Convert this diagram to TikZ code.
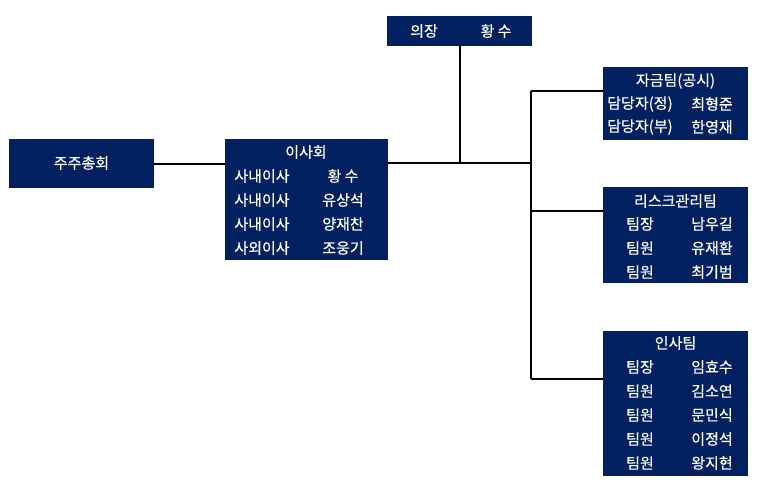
\documentclass[tikz,border=0pt]{standalone}
\usepackage{fontspec}
\setmainfont[FakeBold=0.4]{Noto Sans CJK KR}
\definecolor{navy}{HTML}{002060}

\tikzset{
  box/.style={fill=navy, inner sep=0pt, anchor=north west},
  txt/.style={text=white, inner sep=0pt, font=\fontsize{15}{18}\selectfont},
  wire/.style={line width=2pt}
}

\begin{document}
\begin{tikzpicture}[x=1pt,y=-1pt]
  \useasboundingbox (0,0) rectangle (769,487);

	%draw boxes
 \node[box, minimum width=145, minimum height=49] (jusu) at (9,139) {};
 \node[box, minimum width=163, minimum height=121] (isa) at (225,139) {};
 \node[box, minimum width=145, minimum height=30] (uijang) at (387,16) {};
 \node[box, minimum width=145, minimum height=73] (jagum) at (603,67) {};
 \node[box, minimum width=145, minimum height=96] (risk) at (603,187) {};
 \node[box, minimum width=145, minimum height=145] (insa) at (603,331) {};

	%titles
 \node[txt] (jusu-t) at (81.5,163) {주주총회};
 \node[txt] (isa-t) at (306,152) {이사회};
 \node[txt] (jagum-t) at (675.5,81) {자금팀(공시)};
 \node[txt] (risk-t) at (675.5,201) {리스크관리팀};
 \node[txt] (insa-t) at (675.5,343) {인사팀};

 \node[txt] (uijang-a) at (424,31) {의장};
 \node[txt] (uijang-b) at (496,31) {황 수};

	%members
    \foreach \y/\role/\who/\name in { 176/사내이사/황 수/i1,200/사내이사/유상석/i2,224/사내이사/양재찬/i3,248/사외이사/조웅기/i4 }{
         \node[txt] (\name a) at (262,\y) {\role};
         \node[txt] (\name b) at (343,\y) {\who};
    }

    \foreach \y/\role/\who/\name in { 104/담당자(정)/최형준/j1,127/담당자(부)/한영재/j2 }{
         \node[txt] (\name a) at (640,\y) {\role};
         \node[txt] (\name b) at (712,\y) {\who};
    }

    \foreach \y/\role/\who/\name in { 224/팀장/남우길/r1,248/팀원/유재환/r2,272/팀원/최기범/r3 }{
         \node[txt] (\name a) at (640,\y) {\role};
         \node[txt] (\name b) at (712,\y) {\who};
    }

    \foreach \y/\role/\who/\name in { 367/팀장/임효수/s1,391/팀원/김소연/s2,415/팀원/문민식/s3,439/팀원/이정석/s4,463/팀원/왕지현/s5 }{
         \node[txt] (\name a) at (640,\y) {\role};
         \node[txt] (\name b) at (712,\y) {\who};
    }

	%lines
 \coordinate (split) at (531,163);
 \coordinate (top) at (531,91);
 \coordinate (mid) at (531,211);
 \coordinate (bot) at (531,379);

 \draw[wire] (jusu.east) -- (jusu.east -| isa.west);
 \draw[wire] (isa.east |- split) -- (split);
 \draw[wire] (uijang.south) -- (uijang.south |- split);
 \draw[wire] (top) -- (bot);
 \draw[wire] (top) -- (top -| jagum.west);
 \draw[wire] (mid) -- (mid -| risk.west);
 \draw[wire] (bot) -- (bot -| insa.west);

\end{tikzpicture}
\end{document}
